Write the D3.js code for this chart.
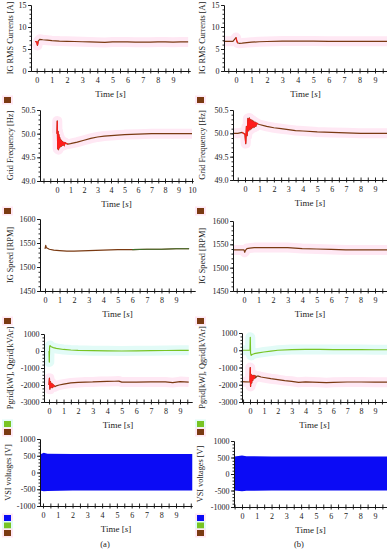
<!DOCTYPE html>
<html>
<head>
<meta charset="utf-8">
<script src="https://cdn.jsdelivr.net/npm/d3@7"></script>
<style>
  body { margin: 0; background: #fff; }
  svg { display: block; font-family: "Liberation Serif", serif; }
</style>
</head>
<body>
<div id="container"></div>
<script>
/* DATA */
const xLabels9 = [0, 1, 2, 3, 4, 5, 6, 7, 8, 9];
const xLabels10 = [0, 1, 2, 3, 4, 5, 6, 7, 8, 9, 10];

const curTicks = [0, 5, 10, 15];
const freqTicks = [49.0, 49.5, 50.0, 50.5];
const speedTicks = [1450, 1500, 1550, 1600];
const powerTicks = [-3000, -2000, -1000, 0, 1000];
const vsiTicks = [-1000, -500, 0, 500, 1000];

// (a) IG RMS current
const curA_t = [-0.1, 0, 0.05, 0.1, 0.2, 0.4, 0.7, 1, 1.5, 2, 2.5, 3, 3.5, 4, 4.5, 5, 5.5, 6, 6.5, 7, 7.5, 8, 8.5, 9, 9.5, 10];
const curA_v = [6.7, 6.6, 5.8, 6.8, 7.2, 7.1, 7.0, 6.9, 6.8, 6.75, 6.7, 6.65, 6.6, 6.55, 6.5, 6.6, 6.6, 6.6, 6.55, 6.55, 6.55, 6.6, 6.6, 6.55, 6.6, 6.6];
// (b) IG RMS current
const curB_t = [-0.8, -0.5, -0.2, 0, 0.05, 0.1, 0.2, 0.4, 0.7, 1, 1.5, 2, 3, 4, 5, 6, 7, 8, 9, 9.9];
const curB_v = [6.75, 6.75, 6.75, 7.6, 6.9, 6.4, 6.3, 6.35, 6.45, 6.55, 6.65, 6.7, 6.8, 6.8, 6.8, 6.75, 6.75, 6.75, 6.75, 6.75];

// (a) grid frequency
const freqA_t = [0, 0.02, 0.05, 0.08, 0.11, 0.14, 0.17, 0.2, 0.23, 0.26, 0.29, 0.32, 0.35, 0.4, 0.45, 0.5, 0.55, 0.6, 0.7, 0.8, 1.0, 1.5, 2, 2.5, 3, 3.5, 4, 4.5, 5, 6, 7, 8, 9, 10];
const freqA_v = [50.0, 50.27, 49.68, 50.05, 49.66, 49.98, 49.7, 49.92, 49.72, 49.88, 49.73, 49.86, 49.74, 49.84, 49.75, 49.82, 49.76, 49.81, 49.79, 49.78, 49.79, 49.82, 49.86, 49.9, 49.93, 49.95, 49.96, 49.97, 49.98, 49.99, 50.0, 50.0, 50.0, 50.0];
// (b) grid frequency
const freqB_t = [-0.8, -0.5, -0.2, 0, 0.05, 0.1, 0.15, 0.2, 0.25, 0.3, 0.35, 0.4, 0.45, 0.5, 0.55, 0.6, 0.65, 0.7, 0.75, 0.8, 0.9, 1, 1.5, 2, 2.5, 3, 3.5, 4, 5, 6, 7, 8, 9, 9.9];
const freqB_v = [50.0, 50.0, 50.02, 49.98, 49.78, 50.15, 49.95, 50.32, 50.05, 50.33, 50.08, 50.3, 50.1, 50.28, 50.12, 50.26, 50.13, 50.24, 50.15, 50.22, 50.2, 50.19, 50.15, 50.12, 50.1, 50.08, 50.06, 50.05, 50.03, 50.02, 50.01, 50.0, 50.0, 50.0];

// (a) IG speed
const speedA_t = [0, 0.05, 0.1, 0.3, 0.6, 1, 1.5, 2, 3, 4, 5, 6, 7, 8, 9, 9.9];
const speedA_v = [1538, 1545, 1540, 1537, 1535, 1534, 1533, 1533, 1534, 1535, 1536, 1536, 1537, 1537, 1538, 1538];
// (b) IG speed
const speedB_t = [-0.75, -0.4, 0, 0.05, 0.1, 0.2, 0.4, 0.7, 1, 1.5, 2, 3, 3.5, 4, 5, 6, 7, 8, 9, 9.9];
const speedB_v = [1538, 1538, 1538, 1533, 1537, 1541, 1542, 1543, 1543, 1543, 1543, 1543, 1542, 1541, 1540, 1539, 1538, 1538, 1538, 1538];

// (a) Qgrid / Pgrid
const qA_t = [0, 0.02, 0.04, 0.07, 0.15, 0.3, 0.5, 1, 1.5, 2, 3, 4, 5, 6, 7, 8, 9, 9.6];
const qA_v = [0, -650, 250, 320, 250, 200, 150, 90, 60, 40, 20, 10, 0, 10, 20, 30, 40, 40];
const pA_t = [0, 0.03, 0.06, 0.1, 0.15, 0.2, 0.25, 0.3, 0.4, 0.5, 0.7, 1, 1.5, 2, 2.5, 3, 3.5, 4, 4.5, 4.8, 5, 6, 7, 8, 8.5, 9, 9.6];
const pA_v = [-2000, -1600, -2250, -1800, -2150, -1900, -2150, -2000, -2100, -2050, -2000, -1950, -1880, -1850, -1830, -1820, -1800, -1790, -1780, -1770, -1830, -1830, -1820, -1820, -1860, -1800, -1830];
// (b) Qgrid / Pgrid
const qB_t = [-0.6, -0.3, 0, 0.02, 0.04, 0.08, 0.15, 0.3, 0.6, 1, 1.5, 2, 3, 4, 5, 6, 7, 8, 9, 9.9];
const qB_v = [0, 0, 0, 750, -150, -300, -250, -200, -150, -100, -50, 0, 40, 50, 50, 40, 40, 40, 30, 30];
const pB_t = [-0.6, -0.3, 0, 0.02, 0.04, 0.08, 0.12, 0.16, 0.2, 0.25, 0.3, 0.35, 0.4, 0.5, 0.6, 0.8, 1, 1.5, 2, 2.5, 3, 3.5, 4, 5, 5.5, 6, 7, 8, 9, 9.9];
const pB_v = [-1820, -1830, -1840, -1000, -2100, -1400, -1900, -1450, -1750, -1450, -1650, -1450, -1600, -1500, -1500, -1550, -1580, -1650, -1700, -1760, -1800, -1860, -1830, -1860, -1880, -1860, -1840, -1840, -1850, -1850];

// VSI voltage envelopes
const vsiA_t = [-0.2, 0.05, 0.3, 2, 5, 8, 10.1];
const vsiA_hi = [540, 590, 560, 550, 550, 550, 550];
const vsiA_lo = [-540, -560, -550, -540, -540, -540, -540];
const vsiB_t = [-0.5, 0, 0.3, 2, 5, 8, 10];
const vsiB_hi = [530, 560, 540, 530, 530, 530, 530];
const vsiB_lo = [-500, -520, -510, -500, -500, -500, -500];

/* COLORS */
const BROWN = "#7a3a12";
const RED = "#ff1c1c";
const GREEN = "#78c424";
const BLUE = "#0b0bf5";
const PINK = "#ffe8f4";
const CYAN = "#e2fbf7";

const svg = d3.select("#container").append("svg")
  .attr("width", 387).attr("height", 550);

/* PANELS */
const panels = [
  { title: "IG RMS Currents [A]", labels: xLabels9, px0: 36.7, pxL: 173, x0: 31, x1: 190, yTicks: curTicks, yTop: 5, yBot: 71, fmt: d => d, titleX: 10, leg: [[BROWN, 97]],
    series: [{ t: curA_t, v: curA_v, color: BROWN, halo: PINK, red: [-0.1, 0.1] }] },
  { title: "Grid Frequency [Hz]", labels: xLabels10, px0: 57, pxL: 192, x0: 40, x1: 193, yTicks: freqTicks, yTop: 110, yBot: 181, fmt: d3.format(".1f"), titleX: 10, leg: [[BROWN, 208]],
    series: [{ t: freqA_t, v: freqA_v, color: BROWN, halo: PINK, red: [0, 0.9] }] },
  { title: "IG Speed [RPM]", labels: xLabels9, px0: 45, pxL: 176, x0: 40, x1: 195, yTicks: speedTicks, yTop: 219, yBot: 291, fmt: d => d, titleX: 10, leg: [[BROWN, 318]],
    series: [{ t: speedA_t, v: speedA_v, color: BROWN, halo: null, tail: [6, 10] }] },
  { title: "Pgrid[kW], Qgrid[kVAr]", labels: xLabels9, px0: 49, pxL: 180, x0: 44, x1: 192, yTicks: powerTicks, yTop: 334, yBot: 402, fmt: d => String(d), titleX: 10, leg: [[GREEN, 421], [BROWN, 429]],
    series: [{ t: qA_t, v: qA_v, color: GREEN, halo: CYAN }, { t: pA_t, v: pA_v, color: BROWN, halo: PINK, red: [0, 0.4] }] },
  { title: "VSI voltages [V]", labels: xLabels9, px0: 43, pxL: 176, x0: 40, x1: 192, yTicks: vsiTicks, yTop: 439, yBot: 506, fmt: d => String(d), titleX: 8, leg: [[BLUE, 515], [GREEN, 522.5], [BROWN, 530]],
    area: { t: vsiA_t, hi: vsiA_hi, lo: vsiA_lo } },

  { title: "IG RMS Currents [A]", labels: xLabels9, px0: 236, pxL: 375, x0: 224, x1: 387, yTicks: curTicks, yTop: 5, yBot: 71, fmt: d => d, titleX: 202, leg: [[BROWN, 97]],
    series: [{ t: curB_t, v: curB_v, color: BROWN, halo: PINK, red: [-0.05, 0.1] }] },
  { title: "Grid Frequency [Hz]", labels: xLabels9, px0: 245, pxL: 375, x0: 233, x1: 387, yTicks: freqTicks, yTop: 110, yBot: 180, fmt: d3.format(".1f"), titleX: 202, leg: [[BROWN, 208]],
    series: [{ t: freqB_t, v: freqB_v, color: BROWN, halo: PINK, red: [-0.2, 0.9] }] },
  { title: "IG Speed [RPM]", labels: xLabels9, px0: 244, pxL: 375, x0: 233, x1: 387, yTicks: speedTicks, yTop: 221, yBot: 291, fmt: d => d, titleX: 202, leg: [[BROWN, 318]],
    series: [{ t: speedB_t, v: speedB_v, color: BROWN, halo: PINK }] },
  { title: "Pgrid[kW], Qgrid[kVAr]", labels: xLabels9, px0: 250, pxL: 375, x0: 242, x1: 387, yTicks: powerTicks, yTop: 333, yBot: 402, fmt: d => String(d), titleX: 202, leg: [[GREEN, 421], [BROWN, 429]],
    series: [{ t: qB_t, v: qB_v, color: GREEN, halo: CYAN }, { t: pB_t, v: pB_v, color: BROWN, halo: PINK, red: [0, 0.35] }] },
  { title: "VSI voltages [V]", labels: xLabels9, px0: 242, pxL: 375, x0: 234, x1: 387, yTicks: vsiTicks, yTop: 441, yBot: 507, fmt: d => String(d), titleX: 200, leg: [[BLUE, 515], [GREEN, 522.5], [BROWN, 530]],
    area: { t: vsiB_t, hi: vsiB_hi, lo: vsiB_lo } }
];

panels.forEach(drawPanel);

function drawPanel(p) {
  const last = p.labels[p.labels.length - 1];
  const base = d3.scaleLinear().domain([0, last]).range([p.px0, p.pxL]);
  const xScale = d3.scaleLinear().domain([base.invert(p.x0), base.invert(p.x1)]).range([p.x0, p.x1]);
  const yScale = d3.scaleLinear()
    .domain([p.yTicks[0], p.yTicks[p.yTicks.length - 1]])
    .range([p.yBot, p.yTop]);
  const g = svg.append("g");

  const line = d3.line().x(d => xScale(d[0])).y(d => yScale(d[1]));

  /* pink / cyan glow behind curves */
  (p.series || []).forEach(s => {
    if (!s.halo) return;
    g.append("path").datum(d3.zip(s.t, s.v))
      .attr("d", line).attr("fill", "none")
      .attr("stroke", s.halo).attr("stroke-width", 10)
      .attr("stroke-linejoin", "round");
  });

  if (p.area) {
    const area = d3.area()
      .x(d => xScale(d[0])).y0(d => yScale(d[2])).y1(d => yScale(d[1]));
    g.append("path").datum(d3.zip(p.area.t, p.area.hi, p.area.lo))
      .attr("d", area).attr("fill", BLUE);
  }

  (p.series || []).forEach(s => {
    const pts = d3.zip(s.t, s.v);
    g.append("path").datum(pts)
      .attr("d", line).attr("fill", "none")
      .attr("stroke", s.color).attr("stroke-width", 1.2)
      .attr("stroke-linejoin", "round");
    if (s.red) {
      g.append("path").datum(pts.filter(d => d[0] >= s.red[0] && d[0] <= s.red[1]))
        .attr("d", line).attr("fill", "none")
        .attr("stroke", RED).attr("stroke-width", 1.1);
    }
    if (s.tail) {
      g.append("path").datum(pts.filter(d => d[0] >= s.tail[0] && d[0] <= s.tail[1]))
        .attr("d", line).attr("fill", "none")
        .attr("stroke", "#3f6f2a").attr("stroke-width", 1.2);
    }
  });

  /* X AXIS: crossing ticks every 0.5 s, labels on whole seconds */
  const dom = xScale.domain();
  const halfTicks = d3.range(Math.ceil(dom[0] * 2) / 2, dom[1] + 1e-9, 0.5);
  const labelSet = new Set(p.labels);

  const xUp = d3.axisBottom(xScale).tickValues(halfTicks).tickSizeInner(-2.5).tickSizeOuter(0).tickFormat("");
  g.append("g").attr("transform", `translate(0,${p.yBot})`).call(xUp);

  const xDown = d3.axisBottom(xScale).tickValues(halfTicks).tickSizeInner(2.5).tickSizeOuter(0).tickPadding(3.5)
    .tickFormat(d => labelSet.has(d) ? d : "");
  g.append("g").attr("transform", `translate(0,${p.yBot})`).call(xDown);

  /* Y AXIS */
  const step = p.yTicks[1] - p.yTicks[0];
  const minor = d3.range(p.yTicks[0], p.yTicks[p.yTicks.length - 1] + step * 1e-6, step / 5);
  g.append("g").attr("transform", `translate(${p.x0},0)`)
    .call(d3.axisLeft(yScale).tickValues(minor).tickSizeInner(1.5).tickSizeOuter(0).tickFormat(""));
  g.append("g").attr("transform", `translate(${p.x0},0)`)
    .call(d3.axisLeft(yScale).tickValues(p.yTicks).tickSizeInner(3).tickSizeOuter(0).tickPadding(1.5).tickFormat(p.fmt));

  g.selectAll(".tick text")
    .style("font-family", "Liberation Serif")
    .style("font-size", "8px")
    .attr("fill", "#222");
  g.selectAll(".domain, .tick line").attr("stroke", "#111").attr("stroke-width", 0.9);

  /* AXIS TITLES */
  const xt = g.append("text")
    .attr("x", (p.x0 + p.x1) / 2).attr("y", p.yBot + 26)
    .attr("text-anchor", "middle")
    .style("font-size", "9px").attr("fill", "#222");
  xt.append("tspan").text("Time [");
  xt.append("tspan").style("font-style", "italic").text("s");
  xt.append("tspan").text("]");

  g.append("text")
    .attr("transform", `translate(${p.titleX + 3},${(p.yTop + p.yBot) / 2}) rotate(-90)`)
    .attr("text-anchor", "middle")
    .style("font-size", "8.3px").attr("fill", "#222")
    .text(p.title);

  /* LEGEND SQUARES */
  const lx = p.x0 < 100 ? 4 : 197;
  p.leg.forEach(([c, ly]) => {
    g.append("rect").attr("x", lx - 2).attr("y", ly - 1.5).attr("width", 11).attr("height", 9)
      .attr("fill", c === GREEN ? CYAN : PINK);
    g.append("rect").attr("x", lx).attr("y", ly).attr("width", 7).attr("height", 6).attr("fill", c);
  });
}

/* CAPTIONS */
svg.append("text").attr("x", 105).attr("y", 547).attr("text-anchor", "middle")
  .style("font-size", "8.5px").attr("fill", "#222").text("(a)");
svg.append("text").attr("x", 299).attr("y", 547).attr("text-anchor", "middle")
  .style("font-size", "8.5px").attr("fill", "#222").text("(b)");
</script>
</body>
</html>
